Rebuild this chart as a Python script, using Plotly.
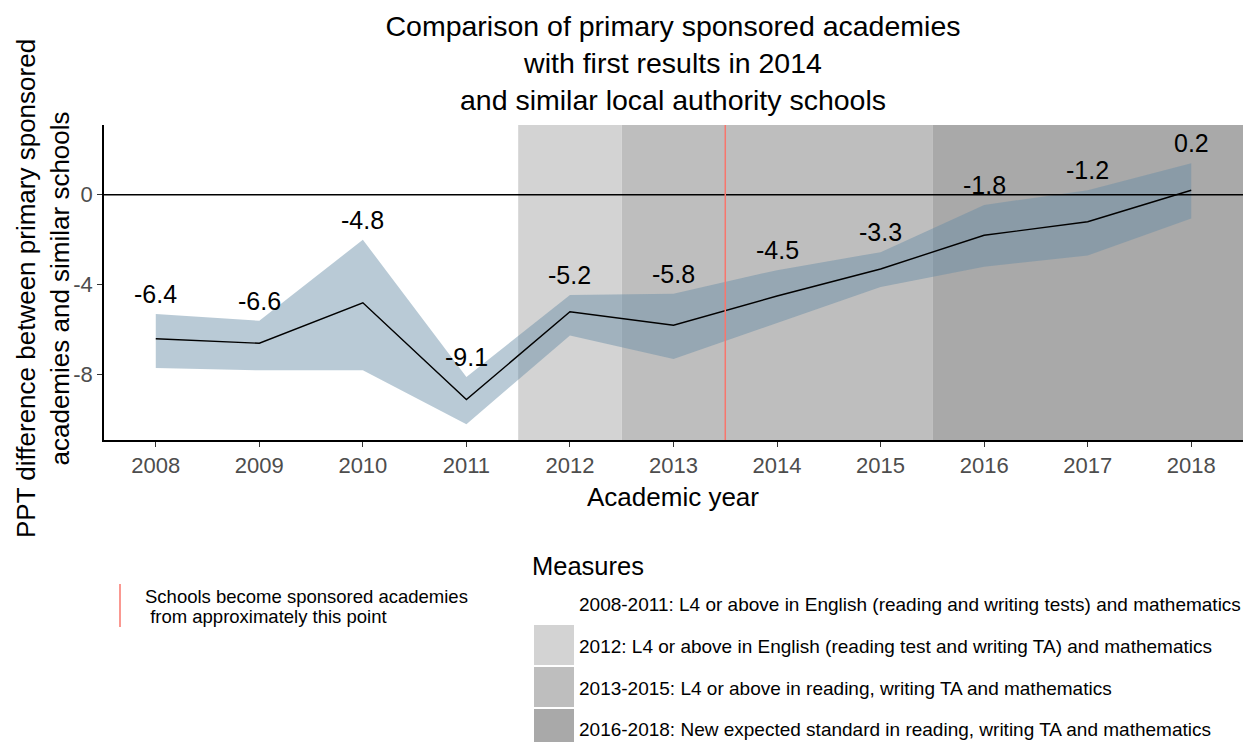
import plotly.graph_objects as go

# ---------------- data ----------------
years = [2008, 2009, 2010, 2011, 2012, 2013, 2014, 2015, 2016, 2017, 2018]
diff = [-6.4, -6.6, -4.8, -9.1, -5.2, -5.8, -4.5, -3.3, -1.8, -1.2, 0.2]
upper = [-5.3, -5.6, -2.0, -8.1, -4.45, -4.4, -3.35, -2.55, -0.45, 0.2, 1.4]
lower = [-7.7, -7.8, -7.8, -10.2, -6.25, -7.3, -5.7, -4.1, -3.2, -2.7, -1.05]
labels = ["-6.4", "-6.6", "-4.8", "-9.1", "-5.2", "-5.8", "-4.5", "-3.3", "-1.8", "-1.2", "0.2"]

measure_start = [2008, 2012, 2013, 2016]
measure_end = [2011, 2012, 2015, 2018]
measure_labels = [
    "2008-2011: L4 or above in English (reading and writing tests) and mathematics",
    "2012: L4 or above in English (reading test and writing TA) and mathematics",
    "2013-2015: L4 or above in reading, writing TA and mathematics",
    "2016-2018: New expected standard in reading, writing TA and mathematics",
]
measure_colors = ["#FFFFFF", "#D3D3D3", "#BEBEBE", "#A9A9A9"]

academy_year = 2013.5
y_tick_vals = [0, -4, -8]
y_tick_text = ["0", "-4", "-8"]

title_text = ("Comparison of primary sponsored academies<br>"
              "with first results in 2014<br>"
              "and similar local authority schools")
y_title = "PPT difference between primary sponsored<br>academies and similar schools"
x_title = "Academic year"
legend_title = "Measures"
academy_note = ["Schools become sponsored academies", "&nbsp;from approximately this point"]

# ---------------- layout geometry ----------------
# page has an 8px body margin; the figure is sized so it fits the 1258x742 window
OFF = 8
W, H = 1258 - OFF, 742 - OFF
L, T = 104 - OFF, 125 - OFF
PW, PH = 1243 - 104, 440 - 125
R, B = W - L - PW, H - T - PH


def px(xp):  # reference page pixel -> paper x
    return (xp - OFF - L) / PW


def py(yp):  # reference page pixel -> paper y
    return (T + PH - (yp - OFF)) / PH


FONT = "Liberation Sans, Arial, sans-serif"
RIBBON = "rgba(103,140,166,0.46)"
RED = "#F8766D"

fig = go.Figure()

# ribbon
fig.add_trace(go.Scatter(
    x=years + years[::-1], y=upper + lower[::-1],
    fill="toself", fillcolor=RIBBON, line=dict(width=0),
    mode="lines", hoverinfo="skip", showlegend=False))

# main line
fig.add_trace(go.Scatter(
    x=years, y=diff, mode="lines",
    line=dict(color="black", width=1.4), showlegend=False))

shapes = []
# measure background bands
for s, e, c in zip(measure_start, measure_end, measure_colors):
    if c.upper() == "#FFFFFF":
        continue
    shapes.append(dict(type="rect", xref="x", yref="paper",
                       x0=s - 0.5, x1=e + 0.5, y0=0, y1=1,
                       fillcolor=c, line=dict(width=0), layer="below"))
# zero line
shapes.append(dict(type="line", xref="paper", yref="y", x0=0, x1=1, y0=0, y1=0,
                   line=dict(color="black", width=1.5), layer="above"))
# academy line
shapes.append(dict(type="line", xref="x", yref="paper", x0=academy_year, x1=academy_year,
                   y0=0, y1=1, line=dict(color=RED, width=1.5), layer="above"))

annotations = []
# data labels
for x, u, t in zip(years, upper, labels):
    annotations.append(dict(x=x, y=u, text=t, showarrow=False, yshift=20,
                            xanchor="center", yanchor="middle",
                            font=dict(family=FONT, size=25, color="black")))

# y-axis title
annotations.append(dict(xref="paper", yref="paper", x=px(43), y=py(289),
                        text=y_title, textangle=-90, showarrow=False,
                        xanchor="center", yanchor="middle",
                        font=dict(family=FONT, size=26, color="black")))
# x-axis title
annotations.append(dict(xref="paper", yref="paper", x=px(673), y=py(497),
                        text=x_title, showarrow=False,
                        xanchor="center", yanchor="middle",
                        font=dict(family=FONT, size=26, color="black")))

# legend: Measures
annotations.append(dict(xref="paper", yref="paper", x=px(530), y=py(566),
                        text=legend_title, showarrow=False,
                        xanchor="left", yanchor="middle",
                        font=dict(family=FONT, size=25.5, color="black")))
row_top0, row_h, key_h = 583, 42, 40
for i, (lab, col) in enumerate(zip(measure_labels, measure_colors)):
    y0 = row_top0 + i * row_h
    shapes.append(dict(type="rect", xref="paper", yref="paper",
                       x0=px(534), x1=px(574), y0=py(y0 + key_h), y1=py(y0),
                       fillcolor=col, line=dict(width=0), layer="above"))
    annotations.append(dict(xref="paper", yref="paper", x=px(577), y=py(min(y0 + 21, 729)),
                            text=lab, showarrow=False, xanchor="left", yanchor="middle",
                            font=dict(family=FONT, size=19, color="black")))

# legend: academy note
shapes.append(dict(type="line", xref="paper", yref="paper",
                   x0=px(120), x1=px(120), y0=py(627), y1=py(584),
                   line=dict(color=RED, width=1.5)))
for j, line_txt in enumerate(academy_note):
    annotations.append(dict(xref="paper", yref="paper", x=px(143), y=py(596 + 20 * j),
                            text=line_txt, showarrow=False, xanchor="left", yanchor="middle",
                            font=dict(family=FONT, size=18.5, color="black")))

fig.update_layout(
    width=W, height=H,
    margin=dict(l=L, r=R, t=T, b=B, autoexpand=False),
    paper_bgcolor="white", plot_bgcolor="white",
    title=dict(text=title_text, x=(673 - OFF) / W, xanchor="center",
               y=1 - (36 - OFF) / H, yanchor="middle",
               font=dict(family=FONT, size=28.5, color="black")),
    xaxis=dict(range=[2007.5, 2018.5], tickvals=years, ticktext=[str(y) for y in years],
               showgrid=False, zeroline=False, showline=True, linecolor="black", linewidth=1.5,
               ticks="outside", ticklen=5, tickcolor="#333333", tickwidth=1.2,
               tickfont=dict(family=FONT, size=22, color="#4D4D4D")),
    yaxis=dict(range=[-10.9, 3.1], tickvals=y_tick_vals, ticktext=y_tick_text,
               showgrid=False, zeroline=False, showline=True, linecolor="black", linewidth=1.5,
               ticks="outside", ticklen=5, tickcolor="#333333", tickwidth=1.2,
               tickfont=dict(family=FONT, size=22, color="#4D4D4D")),
    shapes=shapes, annotations=annotations, showlegend=False,
)

fig.write_html("out.html")
